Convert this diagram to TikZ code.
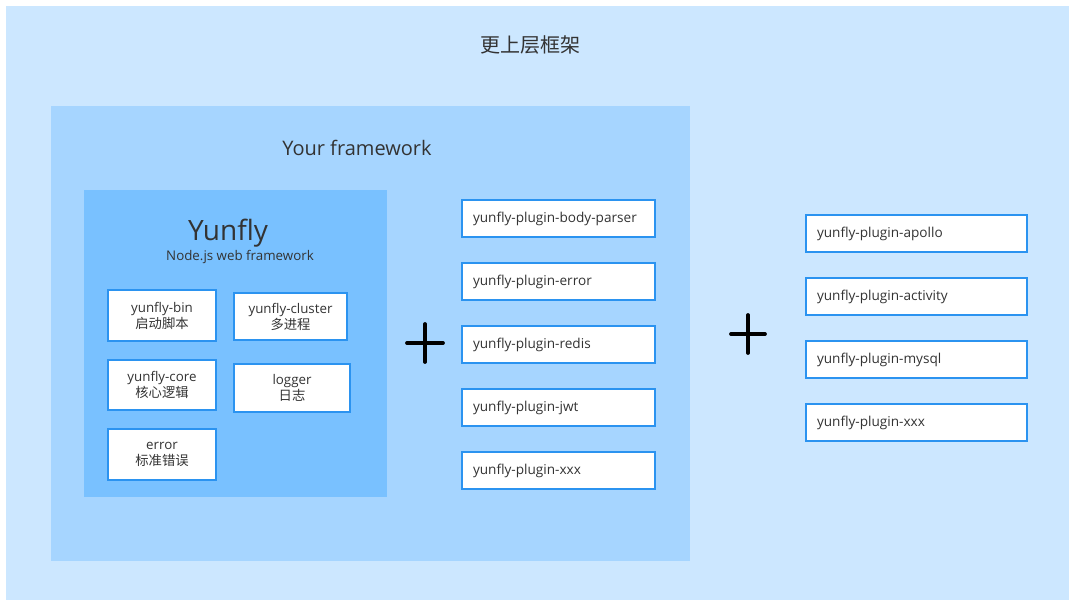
\documentclass[tikz,border=0pt]{standalone}
\usepackage{fontspec}
\setmainfont{Open Sans}
\newfontfamily\cjk{Noto Sans CJK SC}
\usetikzlibrary{positioning}

\definecolor{outerblue}{HTML}{CCE7FF}
\definecolor{midblue}{HTML}{A6D5FF}
\definecolor{innerblue}{HTML}{79C1FF}
\definecolor{edgeblue}{HTML}{2B93F0}
\definecolor{textgray}{HTML}{333333}

\begin{document}
\begin{tikzpicture}[
    x=0.75pt, y=-0.75pt,
    every node/.style={font=\fontsize{10}{12}\selectfont, text=textgray},
    % white boxes with a blue frame
    module/.style={
        rectangle,
        draw=edgeblue,
        fill=white,
        line width=1.5pt,
        anchor=north west,
        align=center,
        inner sep=0pt
    },
    plugin/.style={
        module,
        font=\fontsize{10.2}{12}\selectfont,
        minimum height=27.75pt,
        inner xsep=8.25pt,
        text height=7pt,
        text depth=1pt,
        align=left
    },
    midplugin/.style={plugin, minimum width=144.75pt, text width=128.25pt},
    farplugin/.style={plugin, minimum width=165.75pt, text width=149.25pt},
    plussign/.style={line width=2.8pt, black, line cap=round}
]

\useasboundingbox[fill=white] (0,0) rectangle (1076,608);

% Layers
\fill[outerblue] (6,6) rectangle (1069,600);
\fill[midblue] (51,106) rectangle (690,561);
\fill[innerblue] (84,190) rectangle (387,497);

% Layer titles
\node[font=\cjk\fontsize{15}{18}\selectfont] (upper) at (530,45) {更上层框架};
\node[font=\fontsize{15}{18}\selectfont] (yours) at (357,148) {Your framework};
\node[font=\fontsize{21}{25}\selectfont] (yunfly) at (228,233) {Yunfly};
\node (nodejs) at (240,257) {Node.js web framework};

% Yunfly modules
\node[module, minimum width=81pt, minimum height=38.25pt] (bin) at (107,289) {yunfly-bin\\{\cjk 启动脚本}};
\node[module, minimum width=84.75pt, minimum height=35.25pt] (cluster) at (233,292) {yunfly-cluster\\{\cjk 多进程}};
\node[module, minimum width=81pt, minimum height=37.5pt] (core) at (107,359) {yunfly-core\\{\cjk 核心逻辑}};
\node[module, minimum width=87pt, minimum height=36pt] (logger) at (233,363) {logger\\{\cjk 日志}};
\node[module, minimum width=81pt, minimum height=38.25pt] (error) at (107,428) {error\\{\cjk 标准错误}};

% Framework plugins
\foreach \name [count=\i] in {body-parser, error, redis, jwt, xxx} {
    \node[midplugin] (plug\i) at (461, 199+63*\i-63) {yunfly-plugin-\name};
}

% Upper layer plugins
\foreach \name [count=\i] in {apollo, activity, mysql, xxx} {
    \node[farplugin] (ext\i) at (805, 214+63*\i-63) {yunfly-plugin-\name};
}

% Plus signs
\coordinate (plusA) at (425,343);
\coordinate (plusB) at (748,334);
\draw[plussign] (plusA) ++(-18,0) -- ++(36,0) (plusA) ++(0,-19) -- ++(0,38);
\draw[plussign] (plusB) ++(-17,0) -- ++(34,0) (plusB) ++(0,-19) -- ++(0,38);

\end{tikzpicture}
\end{document}
